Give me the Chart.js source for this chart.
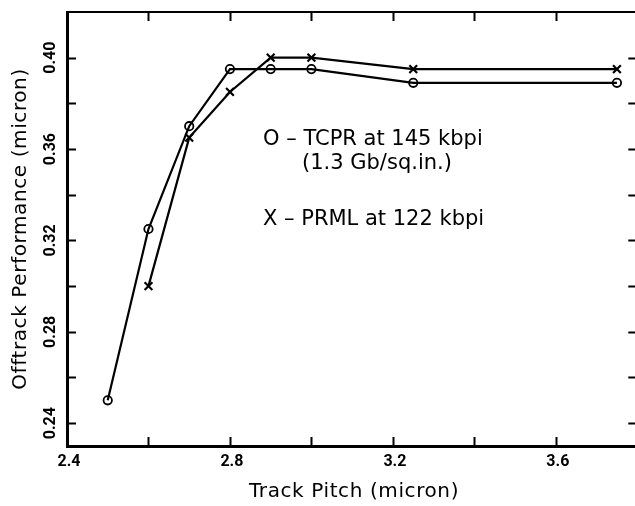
<!DOCTYPE html>
<html>
<head>
<meta charset="utf-8">
<script src="https://cdn.jsdelivr.net/npm/chart.js@4"></script>
<style>
  html, body { margin: 0; padding: 0; background: #fff; overflow: hidden; }
  #wrap { position: relative; width: 645px; height: 506px; }
</style>
</head>
<body>
<div id="wrap"><canvas id="chart"></canvas></div>
<script>
// Offtrack performance vs track pitch
// Data
const tcprPitch = [2.5, 2.6, 2.7, 2.8, 2.9, 3.0, 3.25, 3.75];
const tcprOfftrack = [0.25, 0.325, 0.37, 0.395, 0.395, 0.395, 0.389, 0.389];
const prmlPitch = [2.6, 2.7, 2.8, 2.9, 3.0, 3.25, 3.75];
const prmlOfftrack = [0.30, 0.365, 0.385, 0.40, 0.40, 0.395, 0.395];

// Axis ticks
const xTickMarks = [2.6, 2.8, 3.0, 3.2, 3.4, 3.6];
const xTickLabels = ['2.4', '2.8', '3.2', '3.6'];
const yTickMarks = [0.24, 0.26, 0.28, 0.30, 0.32, 0.34, 0.36, 0.38, 0.40];
const yTickLabels = ['0.24', '0.28', '0.32', '0.36', '0.40'];

const xTitle = 'Track Pitch (micron)';
const yTitle = 'Offtrack Performance (micron)';
const notes = [
  { text: 'O \u2013 TCPR at 145 kbpi', x: 263, y: 140 },
  { text: '(1.3 Gb/sq.in.)', x: 302, y: 164 },
  { text: 'X \u2013 PRML at 122 kbpi', x: 263, y: 220 }
];

const toPoints = (xs, ys) => xs.map((x, i) => ({ x, y: ys[i] }));

// frame, inward ticks, labels, titles and notes
const framePlugin = {
  id: 'frame',
  afterDraw(chart) {
    const { ctx, chartArea: a, scales: { x, y } } = chart;
    ctx.save();
    ctx.strokeStyle = '#000';
    ctx.fillStyle = '#000';

    // top + right edges
    ctx.lineWidth = 2;
    ctx.beginPath();
    ctx.moveTo(a.left, a.top); ctx.lineTo(a.right, a.top);
    ctx.moveTo(a.right, a.top); ctx.lineTo(a.right, a.bottom);
    ctx.stroke();

    // inward tick marks
    const len = 9;
    ctx.lineWidth = 2;
    ctx.beginPath();
    xTickMarks.forEach(v => {
      const px = Math.round(x.getPixelForValue(v)) + 0.5;
      ctx.moveTo(px, a.bottom); ctx.lineTo(px, a.bottom - len);
      ctx.moveTo(px, a.top); ctx.lineTo(px, a.top + len);
    });
    yTickMarks.forEach(v => {
      const py = Math.round(y.getPixelForValue(v)) + 0.5;
      ctx.moveTo(a.left, py); ctx.lineTo(a.left + len, py);
      ctx.moveTo(a.right, py); ctx.lineTo(a.right - len, py);
    });
    ctx.stroke();

    // tick labels
    ctx.font = 'bold 16px Roboto, sans-serif';
    ctx.textAlign = 'center';
    ctx.textBaseline = 'middle';
    xTickLabels.forEach(t => {
      ctx.fillText(t, x.getPixelForValue(parseFloat(t)) + 2, 462);
    });
    yTickLabels.forEach(t => {
      ctx.save();
      ctx.translate(51, y.getPixelForValue(parseFloat(t)));
      ctx.rotate(-Math.PI / 2);
      ctx.fillText(t, 0, 0);
      ctx.restore();
    });

    // axis titles
    ctx.font = '20px "DejaVu Sans", sans-serif';
    ctx.letterSpacing = '0.6px';
    ctx.fillText(xTitle, 354, 492);
    ctx.save();
    ctx.translate(21, 229);
    ctx.rotate(-Math.PI / 2);
    ctx.fillText(yTitle, 0, 0);
    ctx.restore();

    // notes
    ctx.letterSpacing = '0px';
    ctx.font = '21px "DejaVu Sans", sans-serif';
    ctx.textAlign = 'left';
    notes.forEach(n => ctx.fillText(n.text, n.x, n.y));
    ctx.restore();
  }
};

const ctx = document.getElementById('chart').getContext('2d');
const chart = new Chart(ctx, {
  type: 'scatter',
  data: {
    datasets: [
      {
        label: 'TCPR at 145 kbpi',
        data: toPoints(tcprPitch, tcprOfftrack),
        showLine: true,
        borderColor: '#000',
        borderWidth: 2.2,
        pointStyle: 'circle',
        pointRadius: 4.2,
        pointBorderWidth: 1.8,
        pointBorderColor: '#000',
        pointBackgroundColor: 'rgba(0,0,0,0)'
      },
      {
        label: 'PRML at 122 kbpi',
        data: toPoints(prmlPitch, prmlOfftrack),
        showLine: true,
        borderColor: '#000',
        borderWidth: 2.2,
        pointStyle: 'crossRot',
        pointRadius: 5.5,
        pointBorderWidth: 2.2,
        pointBorderColor: '#000',
        pointBackgroundColor: '#000'
      }
    ]
  },
  options: {
    responsive: true,
    maintainAspectRatio: false,
    animation: false,
    events: [],
    layout: { padding: { top: 12, right: 5, left: 0, bottom: 0 } },
    plugins: {
      legend: { display: false },
      tooltip: { enabled: false }
    },
    scales: {
      x: {
        type: 'linear',
        min: 2.4,
        max: 3.8,
        grid: { display: false },
        border: { display: true, color: '#000', width: 3 },
        ticks: { display: false },
        afterFit(scale) { scale.height = 60; }
      },
      y: {
        type: 'linear',
        min: 0.23,
        max: 0.42,
        grid: { display: false },
        border: { display: true, color: '#000', width: 3 },
        ticks: { display: false },
        afterFit(scale) { scale.width = 67; }
      }
    }
  },
  plugins: [framePlugin]
});
</script>
</body>
</html>
